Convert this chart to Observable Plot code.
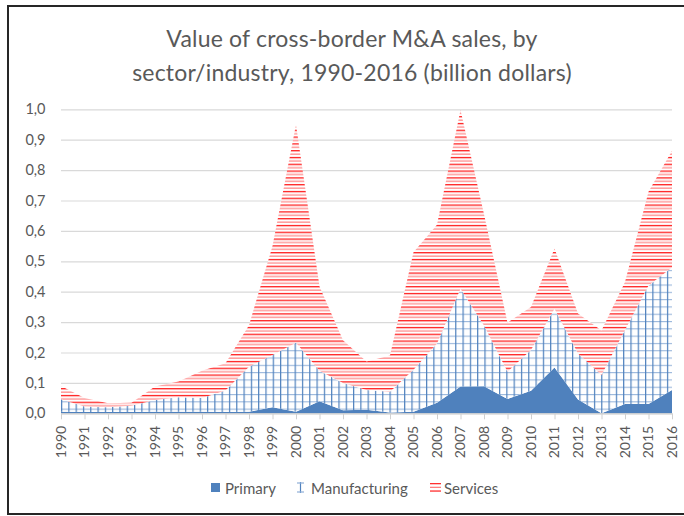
<!DOCTYPE html>
<html><head><meta charset="utf-8">
<script src="https://cdn.jsdelivr.net/npm/d3@7"></script>
<script src="https://cdn.jsdelivr.net/npm/@observablehq/plot@0.6"></script>
<style>
body{margin:0;background:#fff;font-family:Lato,"Open Sans",sans-serif;}
#wrap{position:relative;width:684px;height:516px;overflow:hidden;background:#fff;}
#frame{position:absolute;left:7px;top:5px;width:700px;height:506px;border:2px solid #262626;border-right:none;box-sizing:content-box;}
#title{position:absolute;top:21px;left:10px;width:684px;text-align:center;color:#595959;font-size:23px;letter-spacing:0.2px;line-height:34px;}
#chart{position:absolute;left:0;top:96px;}
.lg{position:absolute;color:#595959;font-size:15px;line-height:18px;top:479px;white-space:nowrap;}
.ic{position:absolute;}
</style>
</head><body>
<div id="wrap">
  <div id="frame"></div>
  <div id="title">Value of cross-border M&amp;A sales, by<br>sector/industry, 1990-2016 (billion dollars)</div>
  <div id="chart"></div>
  <svg class="ic" style="left:211px;top:483px" width="9" height="9"><rect width="9" height="9" fill="#4F81BD"/></svg>
  <div class="lg" style="left:225px">Primary</div>
  <svg class="ic" style="left:296px;top:482px" width="9" height="11"><line x1="4.5" y1="0" x2="4.5" y2="11" stroke="#4F81BD" stroke-width="1.2"/><line x1="1" y1="1" x2="8" y2="1" stroke="#8fb0d8" stroke-width="1.2"/><line x1="1" y1="10" x2="8" y2="10" stroke="#8fb0d8" stroke-width="1.2"/></svg>
  <div class="lg" style="left:311px">Manufacturing</div>
  <svg class="ic" style="left:430px;top:482px" width="11" height="11"><rect x="0" y="1" width="11" height="1.3" fill="#ff3030"/><rect x="0" y="4.7" width="11" height="1.3" fill="#ff8080"/><rect x="0" y="8.4" width="11" height="1.3" fill="#ff3030"/></svg>
  <div class="lg" style="left:444px">Services</div>
</div>
<script>
const years = [1990,1991,1992,1993,1994,1995,1996,1997,1998,1999,2000,2001,2002,2003,2004,2005,2006,2007,2008,2009,2010,2011,2012,2013,2014,2015,2016];
const primary = [0.005,0.004,0.004,0.004,0.005,0.005,0.005,0.004,0.005,0.02,0.005,0.04,0.01,0.012,0.003,0.005,0.035,0.088,0.089,0.047,0.074,0.151,0.045,0.0,0.031,0.031,0.077];
const manufacturing = [0.041,0.018,0.016,0.021,0.039,0.048,0.045,0.071,0.148,0.172,0.227,0.10,0.09,0.065,0.068,0.138,0.195,0.322,0.20,0.09,0.134,0.193,0.152,0.126,0.243,0.389,0.403];
const services = [0.044,0.028,0.013,0.01,0.044,0.052,0.09,0.09,0.137,0.358,0.718,0.277,0.14,0.093,0.119,0.387,0.39,0.588,0.366,0.161,0.142,0.198,0.131,0.146,0.158,0.309,0.384];
const sectors = ["Primary","Manufacturing","Services"];
const yTicks = [0,0.1,0.2,0.3,0.4,0.5,0.6,0.7,0.8,0.9,1.0];

const series = {Primary: primary, Manufacturing: manufacturing, Services: services};
const rows = [];
for (const s of sectors) years.forEach((yr, i) => rows.push({year: yr, sector: s, value: series[s][i]}));

const fmt = d => d.toFixed(1).replace(".", ",");

const svg = Plot.plot({
  width: 684, height: 370,
  marginLeft: 61, marginRight: 12, marginTop: 13.3, marginBottom: 52.7,
  style: {fontFamily: "Lato, sans-serif", fontSize: "14px", color: "#595959", background: "transparent", overflow: "visible"},
  x: {domain: [1990, 2016]},
  y: {domain: [0, 1.0]},
  color: {domain: sectors, range: ["#4F81BD", "url(#mfgPat)", "url(#svcPat)"]},
  marks: [
    Plot.gridY(yTicks, {stroke: "#d9d9d9", strokeOpacity: 1, strokeWidth: 1.2}),
    Plot.areaY(rows, {x: "year", y: "value", z: "sector", fill: "sector", order: sectors}),
    Plot.ruleY([0], {stroke: "#d0d0d0"}),
    Plot.axisX({ticks: years, tickFormat: d => String(d), tickRotate: -90, tickSize: 6, tickPadding: 6, stroke: "#d0d0d0", fill: "#595959", label: null}),
    Plot.axisY({ticks: yTicks, tickFormat: fmt, tickSize: 0, tickPadding: 16, fill: "#595959", fontSize: 14.5, label: null})
  ]
});

const defs = d3.select(svg).insert("defs", ":first-child");
const pm = defs.append("pattern").attr("id", "mfgPat").attr("patternUnits", "userSpaceOnUse")
  .attr("x", 61).attr("y", 13.3).attr("width", 7.3).attr("height", 7.3);
pm.append("rect").attr("width", 7.3).attr("height", 7.3).attr("fill", "#fff");
pm.append("rect").attr("x", 0).attr("y", 0).attr("width", 7.3).attr("height", 1.1).attr("fill", "#9ab7dc");
pm.append("rect").attr("x", 0).attr("y", 0).attr("width", 1.2).attr("height", 7.3).attr("fill", "#4F81BD");
const ps = defs.append("pattern").attr("id", "svcPat").attr("patternUnits", "userSpaceOnUse")
  .attr("x", 0).attr("y", 13.3).attr("width", 10).attr("height", 6.8);
ps.append("rect").attr("width", 10).attr("height", 6.8).attr("fill", "#fff");
ps.append("rect").attr("x", 0).attr("y", 0).attr("width", 10).attr("height", 1.3).attr("fill", "#ff1a1a");
ps.append("rect").attr("x", 0).attr("y", 3.4).attr("width", 10).attr("height", 1.3).attr("fill", "#ff8a8a");

document.getElementById("chart").appendChild(svg);
</script>
</body></html>
